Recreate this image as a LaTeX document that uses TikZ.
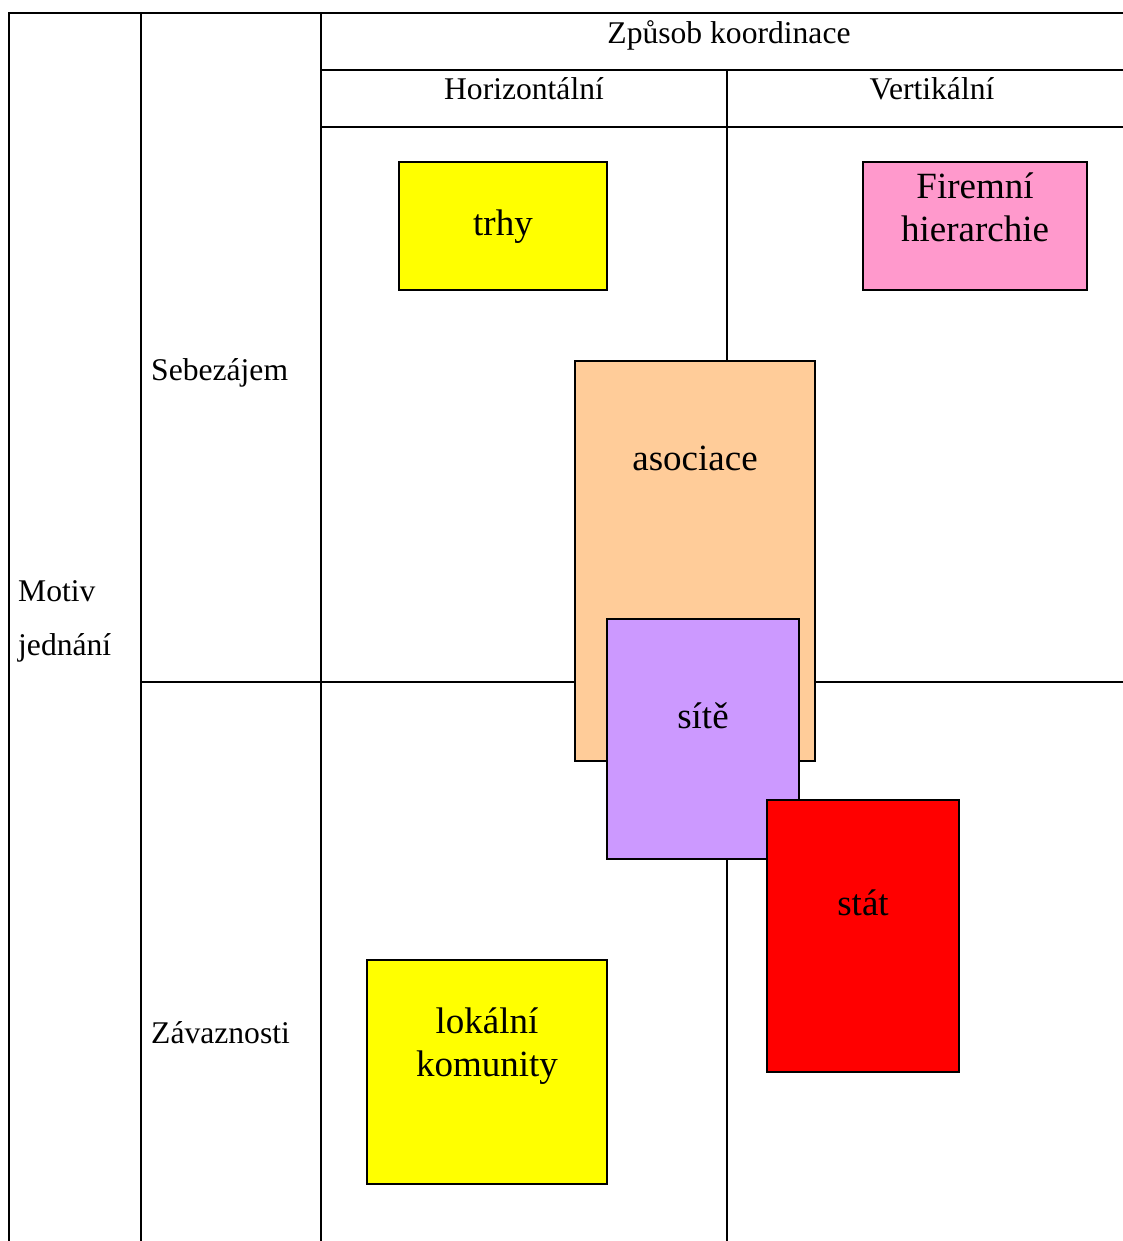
\documentclass[tikz,border=0pt]{standalone}
\usepackage{fontspec}
\setmainfont{Liberation Serif}
\definecolor{boxyellow}{HTML}{FFFF00}
\definecolor{boxpink}{HTML}{FF99CC}
\definecolor{boxpeach}{HTML}{FFCC99}
\definecolor{boxlilac}{HTML}{CC99FF}
\definecolor{boxred}{HTML}{FF0000}
\tikzset{
  rule/.style={line width=2pt},
  box/.style={draw, line width=2pt, inner sep=0pt},
  headtext/.style={font=\fontsize{31.6}{54}\selectfont, anchor=base, inner sep=0pt},
  boxtext/.style={font=\fontsize{37}{43}\selectfont, anchor=base, inner sep=0pt, align=center}
}

\begin{document}
\begin{tikzpicture}[x=1pt,y=-1pt]
\useasboundingbox (0,0) rectangle (1123,1241);
\draw[rule] (9,1241) -- (9,13) -- (1123,13);
\draw[rule] (141,13) -- (141,1241);
\draw[rule] (321,13) -- (321,1241);
\draw[rule] (321,70) -- (1123,70);
\draw[rule] (321,127) -- (1123,127);
\draw[rule] (727,70) -- (727,1241);
\draw[rule] (141,682) -- (1123,682);

\node[headtext] (zpusob) at (729,44) {Způsob koordinace};
\node[headtext] (horiz) at (524,100) {Horizontální};
\node[headtext] (vert) at (932,100) {Vertikální};
\node[headtext, anchor=base west] (sebe) at (151,380) {Sebezájem};
\node[headtext, anchor=base west] (zavaz) at (151,1043) {Závaznosti};
\node[headtext, anchor=base west, align=left] (motiv) at (18,655) {Motiv\\jednání};

\node[box, fill=boxyellow, minimum width=208pt, minimum height=128pt] (trhy) at (503,226) {};
\node[boxtext] (trhytext) at (503,236) {trhy};
\node[box, fill=boxpink, minimum width=224pt, minimum height=128pt] (firma) at (975,226) {};
\node[boxtext] (firmatext) at (975,241) {Firemní\\hierarchie};
\node[box, fill=boxpeach, minimum width=240pt, minimum height=400pt] (asociace) at (695,561) {};
\node[boxtext] (asociacetext) at (695,470) {asociace};
\node[box, fill=boxlilac, minimum width=192pt, minimum height=240pt] (site) at (703,739) {};
\node[boxtext] (sitetext) at (703,728) {sítě};
\node[box, fill=boxred, minimum width=192pt, minimum height=272pt] (stat) at (863,936) {};
\node[boxtext] (stattext) at (863,915) {stát};
\node[box, fill=boxyellow, minimum width=240pt, minimum height=224pt] (komunity) at (487,1072) {};
\node[boxtext] (komunitytext) at (487,1076) {lokální\\komunity};
\end{tikzpicture}
\end{document}
